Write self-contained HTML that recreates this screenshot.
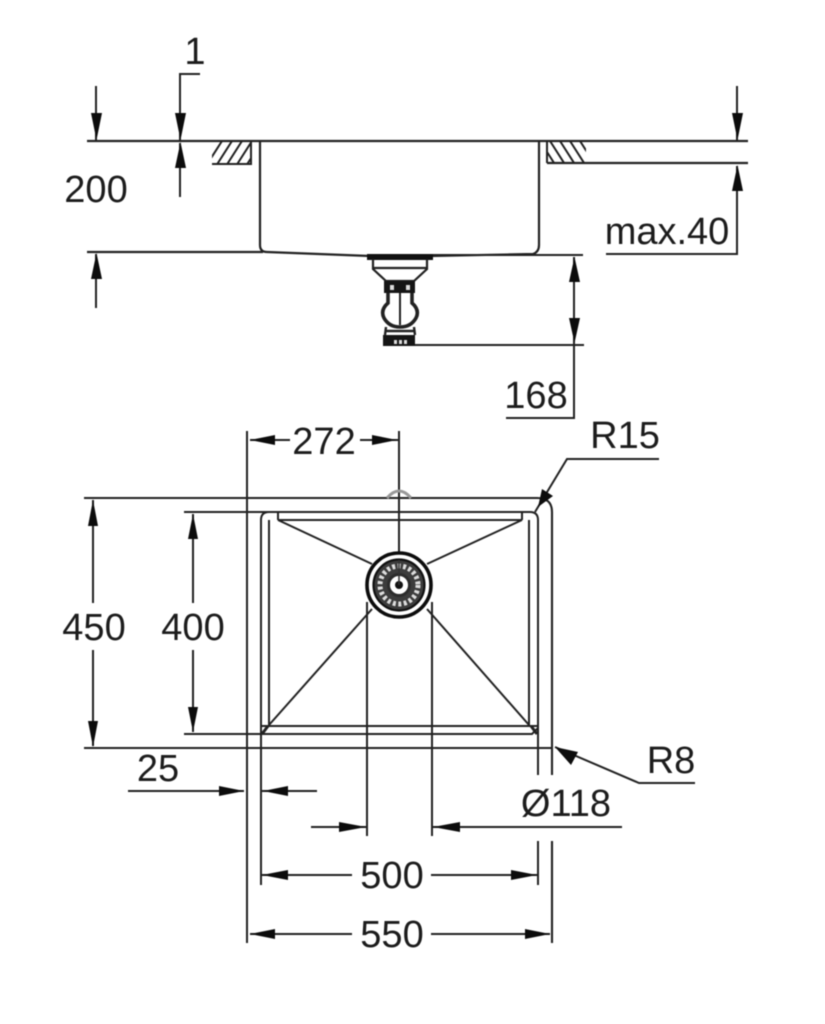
<!DOCTYPE html>
<html><head><meta charset="utf-8"><style>
html,body{margin:0;padding:0;background:#fff;width:825px;height:1024px;overflow:hidden}
svg{display:block;filter:blur(.4px)}
text{font-family:"Liberation Sans",sans-serif;font-size:38px;fill:#1c1c1c;text-anchor:middle}
.l{fill:none;stroke:#222;stroke-width:2}
.a{fill:#0c0c0c;stroke:none}
</style></head><body>
<svg width="825" height="1024" viewBox="0 0 825 1024" xmlns="http://www.w3.org/2000/svg">
<defs>
<clipPath id="h1"><rect x="212" y="141" width="39" height="23"/></clipPath>
<clipPath id="h2"><rect x="547" y="141" width="39" height="22"/></clipPath>
</defs>
<rect width="825" height="1024" fill="#fff"/>
<!-- SIDE VIEW -->
<g class="l">
<path d="M87 141H748M547 163H748M87 252H263" style="stroke-width:2.200"/>
<path d="M260 141V245Q260 252 267 252L370 256H430L533 254Q539 252 539 245V141" style="stroke-width:2.200"/>
<path d="M430 255H583M415 345H584"/>
<path d="M212 164H251V141M547 141V163"/>
<g clip-path="url(#h1)"><path d="M222 141L206 166M232 141L216 166M242 141L226 166M252 141L236 166M262 141L246 166"/></g>
<g clip-path="url(#h2)"><path d="M540 141L556 166M550 141L566 166M560 141L576 166M570 141L586 166M580 141L596 166"/></g>
<!-- dimensions -->
<path d="M96 86V140M96 254V308M180 140V74H200M180 143V197"/>
<path d="M737 86V140M737 166V254H606M574 257V418H506"/>
</g>
<path class="a" d="M91 113H102L96.500 140ZM175 113H186L180.500 140ZM175 168H186L180.500 142ZM91 279H102L96.500 253ZM732 113H743L737.500 140ZM732 191H743L737.500 165ZM569 282H580L574.500 257ZM569 318H580L574.500 343Z"/>
<!-- waste side -->
<g class="l">
<rect x="367" y="254" width="66" height="6" fill="#111" stroke="none"/>
<path d="M373 259V269L386 281H414L427 269V259M373 268H427" style="stroke-width:2.200"/>
<path d="M400 292V325"/>
<path d="M388 293V303Q380 310 384 318Q389 327 400 327Q411 327 416 318Q420 310 412 303V293" style="stroke-width:3.600"/>
<path d="M386 327L385 335M414 327L415 335M386 331H414" style="stroke-width:2.400"/>
</g>
<rect x="384" y="281" width="31" height="12" fill="#151515"/>
<rect x="383" y="335" width="32" height="11" fill="#151515"/>
<g fill="#ddd"><rect x="390" y="285" width="4" height="5"/><rect x="406" y="285" width="4" height="5"/><rect x="394" y="340" width="3" height="4"/><rect x="399" y="340" width="3" height="4"/><rect x="404" y="340" width="3" height="4"/></g>
<!-- PLAN VIEW -->
<g class="l">
<path d="M84 498H537Q552 498 552 512V775M552 841V943" style="stroke-width:2.100"/>
<path d="M84 748H552" style="stroke-width:2.100"/>
<path d="M247 431V943M184 512H530Q538 512 538 520V775M538 841V885M184 734H532L538 728V726M261 520Q261 512 269 512M261 520V885"/>
<path d="M269 520V726M529 520V726M278 520H522M262 726H537M278 512V520M522 512V520"/>
<path d="M278 520L372 564M522 520L427 564M269 725L372 609M529 725L427 609"/>
<path d="M399 431V585M367 602V836M432 602V836"/>
<path d="M262 734L268 726M537 734L531 726" style="stroke-width:3"/>
<path d="M387 498Q399 484 411 498" style="stroke:#999;stroke-width:3"/>
</g>
<!-- drain -->
<circle cx="399" cy="585" r="32" fill="#fff" stroke="#0c0c0c" stroke-width="3.600"/>
<circle cx="399" cy="585" r="25.500" fill="#3c3c3c" stroke="#111" stroke-width="2.200"/>
<circle cx="399" cy="585" r="19" fill="none" stroke="#ddd" stroke-width="5" stroke-dasharray="3 2.500"/>
<circle cx="399" cy="585" r="12" fill="#2c2c2c"/>
<circle cx="399" cy="585" r="9" fill="#fff"/>
<circle cx="399" cy="585" r="4" fill="#111"/>
<path d="M399 560V585" stroke="#333" stroke-width="1.500"/>
<!-- plan dimensions -->
<g class="l">
<path d="M250 440H290M360 440H399M93 500V603M93 650V746M193 514V603M193 650V732"/>
<path d="M128 791H244M262 791H317M311 827H366M433 827H622M262 875H352M431 875H537M250 934H352M431 934H550"/>
<path d="M659 459H567L535 512M555 747L639 783H695"/>
</g>
<path class="a" d="M250 440L275 435V445ZM397 440L372 435V445ZM93 500L88 526H98ZM93 747L88 721H98ZM193 514L188 539H198ZM193 732L188 707H198ZM244 791L219 786V796ZM263 791L288 786V796ZM366 827L339 822V832ZM433 827L460 822V832ZM262 875L288 870V880ZM537 875L511 870V880ZM250 934L275 929V939ZM550 934L525 929V939ZM538 507L542 489L553 496ZM555 747L578 752L571 765Z"/>
<!-- labels -->
<text x="195" y="64">1</text>
<text x="96" y="202">200</text>
<text x="667" y="244">max.40</text>
<text x="536" y="408">168</text>
<text x="324" y="454">272</text>
<text x="625" y="448">R15</text>
<text x="94" y="640">450</text>
<text x="193" y="640">400</text>
<text x="158" y="781">25</text>
<text x="671" y="773">R8</text>
<text x="566" y="816">Ø118</text>
<text x="392" y="888">500</text>
<text x="392" y="947">550</text>
</svg>
</body></html>
